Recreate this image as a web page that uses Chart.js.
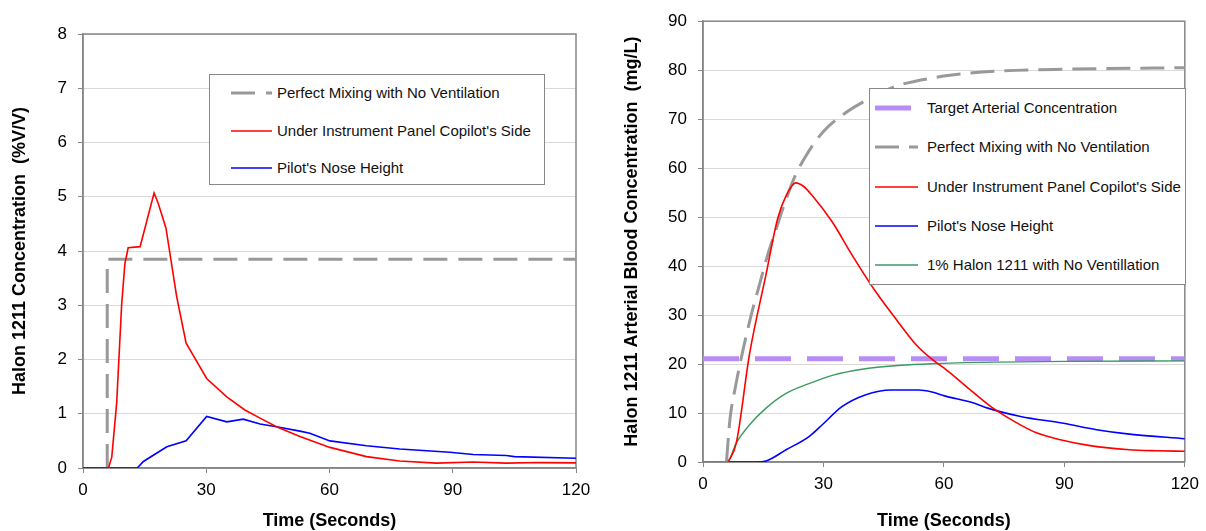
<!DOCTYPE html>
<html>
<head>
<meta charset="utf-8">
<title>Halon 1211 concentration</title>
<script src="https://cdn.jsdelivr.net/npm/chart.js@4.4.1/dist/chart.umd.min.js"></script>
<style>
  html, body { margin: 0; padding: 0; background: #fff; }
  body { width: 1206px; height: 531px; position: relative; overflow: hidden; font-family: "Liberation Sans", Arial, sans-serif; }
  canvas { position: absolute; top: 0; }
  .legend { position: absolute; background: #fff; border: 1.5px solid #888; box-sizing: border-box; }
  .legend .item { position: absolute; left: 0; height: 20px; margin-top: -10px; white-space: nowrap; font-size: 15px; color: #111; }
  .legend svg { position: absolute; top: 0; }
  .legend span { position: absolute; top: 1px; line-height: 18px; }
</style>
</head>
<body>
<canvas id="leftChart" width="600" height="531" style="left:0;width:600px;height:531px"></canvas>
<canvas id="rightChart" width="606" height="531" style="left:600px;width:606px;height:531px"></canvas>
<div id="leftLegend" class="legend"></div>
<div id="rightLegend" class="legend"></div>
<script>
// shared x axis (seconds)
const timeTicks = [0, 30, 60, 90, 120];

// left panel: Halon 1211 concentration (% V/V)
const leftLabels = ['Perfect Mixing with No Ventilation', "Under Instrument Panel Copilot's Side", "Pilot's Nose Height"];
const mixLeftT = [5.9, 5.9, 120];
const mixLeftV = [0, 3.85, 3.85];
const copilotLeftT = [6.2, 7.0, 8.2, 9.4, 10.2, 11, 13.9, 17.3, 18.3, 20.2, 22.8, 25.1, 30.1, 35, 39.4, 43.1, 47.1, 52.8, 60.1, 69, 77.1, 86, 95, 103, 111, 120];
const copilotLeftV = [0, 0.2, 1.2, 3.0, 3.77, 4.06, 4.08, 5.07, 4.88, 4.42, 3.16, 2.3, 1.65, 1.31, 1.07, 0.92, 0.76, 0.58, 0.38, 0.21, 0.13, 0.09, 0.11, 0.09, 0.1, 0.095];
const noseLeftT = [0, 13.2, 14.7, 20.4, 25.1, 30.1, 35, 39, 43.1, 47.1, 52.8, 55.2, 60.1, 69, 77.1, 89.3, 95, 103, 105, 120];
const noseLeftV = [0, 0, 0.12, 0.39, 0.5, 0.95, 0.85, 0.9, 0.81, 0.76, 0.68, 0.64, 0.5, 0.41, 0.35, 0.29, 0.25, 0.23, 0.21, 0.18];

// right panel: arterial blood concentration (mg/L)
const rightLabels = ['Target Arterial Concentration', 'Perfect Mixing with No Ventilation', "Under Instrument Panel Copilot's Side", "Pilot's Nose Height", '1% Halon 1211 with No Ventillation'];
const targetT = [0, 120];
const targetV = [21.1, 21.1];
const mixRightT = [5.85, 6.7, 8, 10, 12, 14, 16, 18, 20, 23, 26, 30, 35, 41, 48, 57, 65, 73, 90, 120];
const mixRightV = [0, 8.6, 15, 23, 30, 36, 42, 47, 52, 58.5, 63, 67.5, 71, 74, 76.7, 78.4, 79.3, 79.8, 80.2, 80.5];
const copilotRightT = [6.3, 8.3, 11.6, 15.7, 18.6, 20.7, 23.1, 25, 27.2, 32.2, 37.1, 42.9, 48.6, 53, 57, 60, 65, 71.7, 77.5, 83.2, 89, 96.4, 106.2, 113, 120];
const copilotRightV = [0, 3.9, 22.1, 38.3, 49.7, 54.4, 57, 56.3, 54.4, 49, 42.3, 34.9, 28.6, 24, 21, 19.2, 15.8, 11.3, 8.3, 5.9, 4.55, 3.34, 2.5, 2.3, 2.2];
const noseRightT = [6.5, 13.3, 15.7, 20.7, 26.4, 29.7, 34.6, 40.4, 47, 53.6, 57, 60.2, 67.6, 70.9, 79.1, 89.8, 98, 106.2, 120];
const noseRightV = [0, 0, 0.2, 2.5, 5.2, 7.6, 11.3, 13.7, 14.7, 14.7, 14.3, 13.5, 12, 11, 9.3, 7.9, 6.6, 5.7, 4.75];
const oneRightT = [0, 6, 8.3, 11.6, 15.7, 20.7, 26.4, 32.2, 40.4, 48.6, 56.9, 73.3, 90, 120];
const oneRightV = [0, 0, 3.9, 7.6, 11, 14, 16, 17.7, 19.05, 19.7, 20.07, 20.4, 20.55, 20.65];

const FONT = "'Liberation Sans', Arial, sans-serif";
const AXIS = '#868686';

function pts(ts, vs) {
  return ts.map((t, i) => ({ x: t, y: vs[i] }));
}

// box round the plot area
const frame = {
  id: 'frame',
  beforeDatasetsDraw(chart) {
    const { ctx, chartArea: a } = chart;
    ctx.save();
    ctx.strokeStyle = AXIS;
    ctx.lineWidth = 1.5;
    ctx.strokeRect(a.left, a.top, a.right - a.left, a.bottom - a.top);
    ctx.restore();
  }
};

function line(label, data, color, width, dash, smooth) {
  return {
    label: label,
    data: data,
    borderColor: color,
    backgroundColor: color,
    borderWidth: width,
    borderDash: dash || [],
    pointRadius: 0,
    fill: false,
    cubicInterpolationMode: smooth ? 'monotone' : 'default',
    tension: 0
  };
}

function makeOptions(yMax, yStep, yTitle, yWidth, xHeight, yTitlePad, pad) {
  return {
    responsive: false,
    animation: false,
    devicePixelRatio: 1,
    layout: { padding: pad },
    plugins: { legend: { display: false }, tooltip: { enabled: false } },
    scales: {
      x: {
        type: 'linear',
        min: 0,
        max: 120,
        afterBuildTicks: (s) => { s.ticks = timeTicks.map(v => ({ value: v })); },
        afterFit: (s) => { s.height = xHeight; },
        ticks: { color: '#000', padding: 7, font: { family: FONT, size: 17 } },
        grid: { drawOnChartArea: false, tickLength: 5, tickColor: AXIS },
        border: { color: AXIS, width: 1.5 },
        title: {
          display: true,
          text: 'Time (Seconds)',
          color: '#000',
          padding: { top: 0, bottom: 0 },
          font: { family: FONT, size: 18, weight: 'bold', lineHeight: 1.1 }
        }
      },
      y: {
        min: 0,
        max: yMax,
        afterFit: (s) => { s.width = yWidth; },
        ticks: { stepSize: yStep, color: '#000', padding: 11, font: { family: FONT, size: 17 } },
        grid: { color: '#d9d9d9', lineWidth: 1, tickLength: 5, tickColor: AXIS },
        border: { color: AXIS, width: 1.5 },
        title: {
          display: true,
          text: yTitle,
          color: '#000',
          padding: { top: yTitlePad, bottom: 0 },
          font: { family: FONT, size: 18, weight: 'bold', lineHeight: 1.2 }
        }
      }
    }
  };
}

const leftSets = [
  line(leftLabels[1], pts(copilotLeftT, copilotLeftV), '#ff0000', 1.6),
  line(leftLabels[2], pts(noseLeftT, noseLeftV), '#0000ff', 1.6),
  line(leftLabels[0], pts(mixLeftT, mixLeftV), '#999999', 3, [24, 11])
];

new Chart(document.getElementById('leftChart').getContext('2d'), {
  type: 'line',
  data: { datasets: leftSets },
  options: makeOptions(8, 1, 'Halon 1211 Concentration  (%V/V)', 83, 63, 9, { top: 34, right: 24, left: 0, bottom: 0 }),
  plugins: [frame]
});

const rightSets = [
  line(rightLabels[2], pts(copilotRightT, copilotRightV), '#ff0000', 1.6, null, true),
  line(rightLabels[3], pts(noseRightT, noseRightV), '#0000ff', 1.6, null, true),
  line(rightLabels[4], pts(oneRightT, oneRightV), '#3a9a62', 1.4, null, true),
  line(rightLabels[1], pts(mixRightT, mixRightV), '#999999', 3, [24, 10], true),
  line(rightLabels[0], pts(targetT, targetV), '#b88cf5', 5, [36, 16])
];

new Chart(document.getElementById('rightChart').getContext('2d'), {
  type: 'line',
  data: { datasets: rightSets },
  options: makeOptions(90, 10, 'Halon 1211 Arterial Blood Concentration  (mg/L)', 103, 69, 21, { top: 18, right: 17, left: 0, bottom: 0 }),
  plugins: [frame]
});

// legends as boxes inside the plot, built from the datasets
function makeLegend(id, box, sets, order, spacing, firstY, sampleX, sampleW, textX) {
  const el = document.getElementById(id);
  el.style.left = box[0] + 'px';
  el.style.top = box[1] + 'px';
  el.style.width = box[2] + 'px';
  el.style.height = box[3] + 'px';
  order.forEach((label, i) => {
    const ds = sets.find(d => d.label === label);
    const item = document.createElement('div');
    item.className = 'item';
    item.style.top = (firstY + i * spacing) + 'px';
    const dash = ds.borderDash.length ? ds.borderDash.join(' ') : 'none';
    item.innerHTML =
      '<svg width="' + sampleW + '" height="20" style="left:' + sampleX + 'px">' +
      '<line x1="0" y1="10" x2="' + sampleW + '" y2="10" stroke="' + ds.borderColor +
      '" stroke-width="' + ds.borderWidth + '" stroke-dasharray="' + dash + '"/></svg>' +
      '<span style="left:' + textX + 'px">' + label + '</span>';
    el.appendChild(item);
  });
}

makeLegend('leftLegend', [209, 74, 336, 111], leftSets, leftLabels, 37.5, 18, 21, 41, 67);
makeLegend('rightLegend', [869, 88, 317, 197], rightSets, rightLabels, 39.3, 19, 5, 43, 57);
</script>
</body>
</html>
